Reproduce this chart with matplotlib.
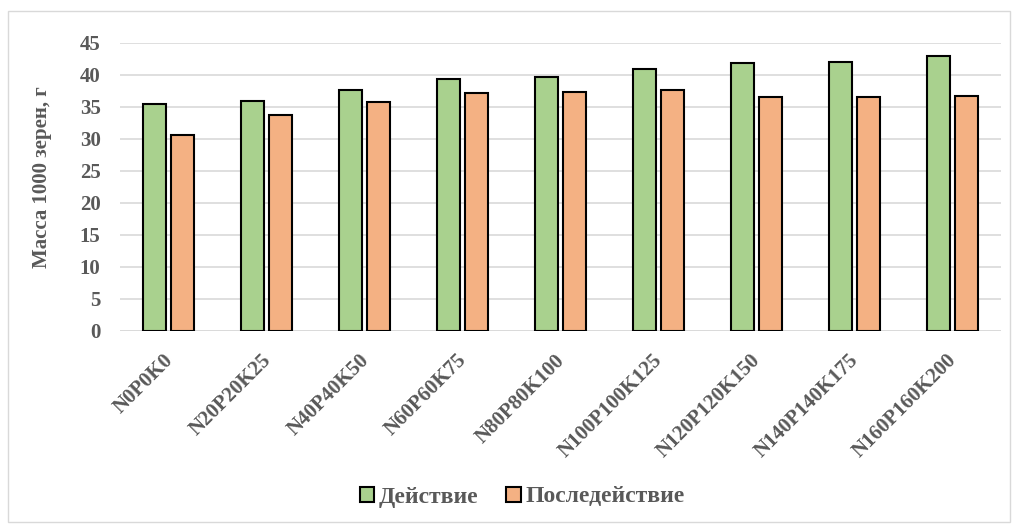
import matplotlib.pyplot as plt
import numpy as np
from matplotlib.patches import Rectangle
from matplotlib.transforms import ScaledTranslation

categories = ["N0P0K0", "N20P20K25", "N40P40K50", "N60P60K75", "N80P80K100",
              "N100P100K125", "N120P120K150", "N140P140K175", "N160P160K200"]
action = [35.5, 36.0, 37.6, 39.4, 39.7, 40.9, 41.9, 42.1, 43.0]
after_action = [30.7, 33.7, 35.8, 37.2, 37.4, 37.7, 36.5, 36.5, 36.7]
series_names = ["Действие", "Последействие"]
yticks = list(range(0, 50, 5))

plt.rcParams['font.family'] = ['Liberation Serif', 'DejaVu Serif']
plt.rcParams['font.weight'] = 'bold'

fig = plt.figure(figsize=(10.17, 5.31), dpi=100)
ax = fig.add_axes([120 / 1017, 1 - 331 / 531, 881 / 1017, 288 / 531])

x = np.arange(len(categories))
w = 0.235
off = 0.143
ax.bar(x - off, action, width=w, color='#a9d18e', edgecolor='black', linewidth=1.5,
       label=series_names[0], zorder=3)
ax.bar(x + off, after_action, width=w, color='#f4b183', edgecolor='black', linewidth=1.5,
       label=series_names[1], zorder=3)

ax.set_xlim(-0.5, len(categories) - 0.5)
ax.set_ylim(0, 45)
ax.set_yticks(yticks)
ax.yaxis.grid(True, color='#d9d9d9', linewidth=1.2, zorder=0)
ax.tick_params(axis='y', length=0, labelsize=15, colors='#595959', pad=14)
ax.tick_params(axis='x', length=0, labelsize=15, colors='#595959', pad=14)
for s in ax.spines.values():
    s.set_visible(False)
ax.axhline(0, color='#d9d9d9', linewidth=1.2, zorder=2)

ax.set_xticks(x)
ax.set_xticklabels(categories, rotation=45, ha='right', rotation_mode='anchor',
                   fontsize=15, fontweight='bold', color='#595959')
shift = ScaledTranslation(-6 / 100, 0, fig.dpi_scale_trans)
for lbl in ax.get_xticklabels():
    lbl.set_transform(lbl.get_transform() + shift)
for lbl in ax.get_yticklabels():
    lbl.set_fontweight('bold')
ax.set_ylabel("Масса 1000 зерен, г", fontsize=15, fontweight='bold', color='#595959')
ax.yaxis.set_label_coords(-0.088, 0.536)
ax.yaxis.label.set_va('center')

leg = fig.legend(loc='center', bbox_to_anchor=(522 / 1017, 1 - 497 / 531), ncol=2,
                 frameon=False, handlelength=0.6, handleheight=0.6,
                 handletextpad=0.2, columnspacing=1.2,
                 prop={'weight': 'bold', 'size': 17})
for t in leg.get_texts():
    t.set_color('#595959')

fig.patches.append(Rectangle((8 / 1017, 9 / 531), 1002 / 1017, 511 / 531,
                             transform=fig.transFigure, fill=False,
                             edgecolor='#d9d9d9', linewidth=1.0))

fig.savefig('out.png', dpi=100, facecolor='white')
